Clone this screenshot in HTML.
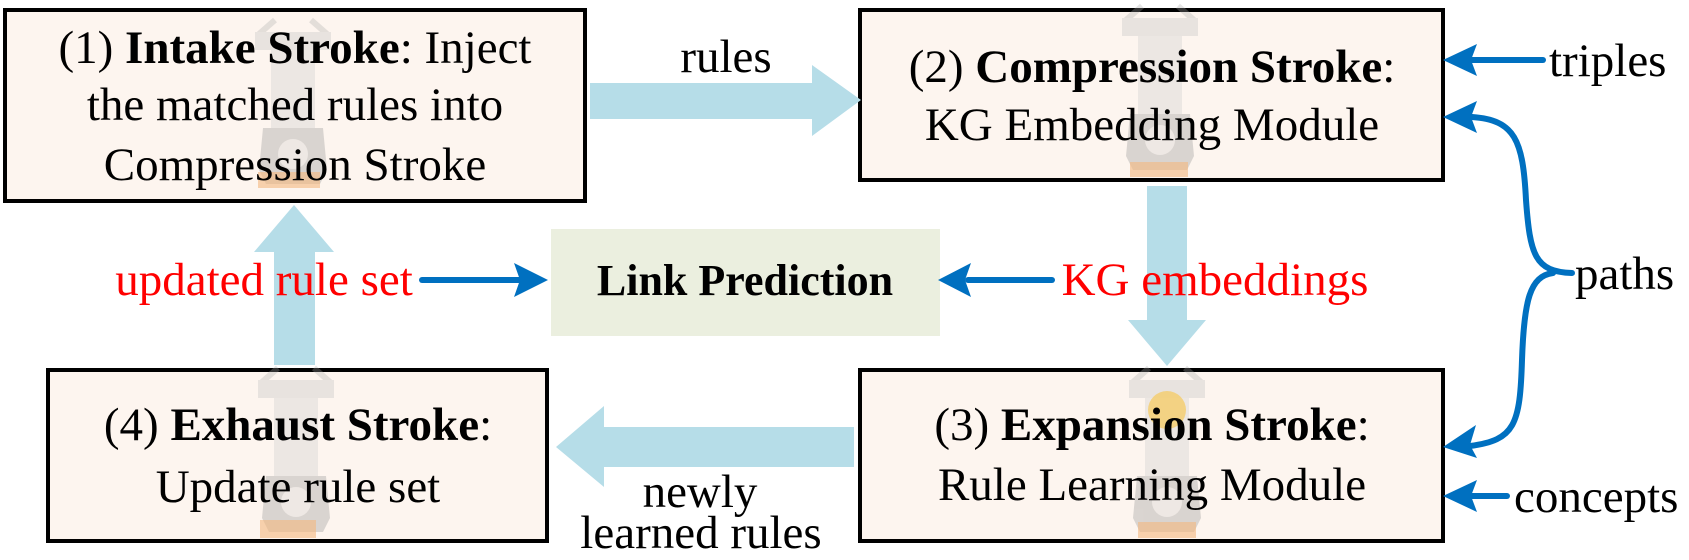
<!DOCTYPE html>
<html><head><meta charset="utf-8"><style>
html,body{margin:0;padding:0;background:#fff;}
svg text{font-family:"Liberation Serif",serif;}
</style></head><body>
<svg width="1689" height="555" viewBox="0 0 1689 555" xmlns="http://www.w3.org/2000/svg">
<defs>
<g id="eng" opacity="0.3">
  <path d="M-34,-58 L-18,-72 M34,-58 L18,-72" stroke="#aaa" stroke-width="6"/>
  <rect x="-38" y="-60" width="76" height="18" fill="#bbb"/>
  <rect x="-22" y="-42" width="44" height="78" fill="#c8c8c8"/>
  <path d="M-30,36 L30,36 L34,78 L27,92 L-27,92 L-34,78 Z" fill="#8a8a8a"/>
  <circle cx="0" cy="62" r="15" fill="#ccc"/>
</g>
</defs>
<rect x="5" y="10" width="580" height="191" fill="#fdf5ef" stroke="#000" stroke-width="4"/>
<rect x="860" y="10" width="583" height="170" fill="#fdf5ef" stroke="#000" stroke-width="4"/>
<rect x="860" y="370" width="583" height="171" fill="#fdf5ef" stroke="#000" stroke-width="4"/>
<rect x="48" y="370" width="499" height="171" fill="#fdf5ef" stroke="#000" stroke-width="4"/>
<use href="#eng" x="293" y="92"/><rect x="258" y="172" width="62" height="16" fill="#f3b77e" opacity="0.6"/>
<use href="#eng" x="1160" y="78"/><rect x="1130" y="162" width="58" height="15" fill="#f3b77e" opacity="0.6"/>
<use href="#eng" x="1167" y="440"/><circle cx="1167" cy="410" r="19" fill="#f7c95a" opacity="0.7"/><rect x="1138" y="522" width="58" height="16" fill="#f3b77e" opacity="0.6"/>
<use href="#eng" x="296" y="440"/><rect x="260" y="520" width="56" height="18" fill="#f3b77e" opacity="0.6"/>
<rect x="551" y="229" width="389" height="107" fill="#ebefdf"/>
<text x="745" y="295" font-size="44" font-weight="bold" text-anchor="middle">Link Prediction</text>
<polygon points="590,83 812,83 812,65 861,100 812,136 812,119 590,119" fill="#b6dde8"/>
<polygon points="274,365 274,252 254,252 294,205 334,252 315,252 315,365" fill="#b6dde8"/>
<polygon points="1147,186 1187,186 1187,320 1206,320 1167,366 1128,320 1147,320" fill="#b6dde8"/>
<polygon points="854,427 604,427 604,406 556,447 604,487 604,467 854,467" fill="#b6dde8"/>
<g stroke="#0070c0" stroke-width="6" fill="none" stroke-linecap="round">
  <line x1="422" y1="280" x2="520" y2="280"/>
  <line x1="1052" y1="280" x2="968" y2="280"/>
  <line x1="1543" y1="60" x2="1470" y2="60"/>
  <line x1="1507" y1="496" x2="1470" y2="496"/>
  <path d="M1472,117 C1515,120 1523,140 1526,200 C1530,255 1535,272 1572,273 M1553,273 C1530,276 1524,300 1522,360 C1520,425 1515,440 1470,446"/>
</g>
<g fill="#0070c0">
  <polygon points="548,280 514,263 520,280 514,297"/>
  <polygon points="938,280 971,263 965,280 971,297"/>
  <polygon points="1443,60 1477,44 1471,60 1477,76"/>
  <polygon points="1443,117 1477,101 1471,117 1477,133"/>
  <polygon points="1443,447 1476,425 1470,445 1477,458"/>
  <polygon points="1443,496 1477,480 1471,496 1477,512"/>
</g>
<g font-size="47" text-anchor="middle">
  <text x="295" y="63">(1) <tspan font-weight="bold">Intake Stroke</tspan>: Inject</text>
  <text x="295" y="120">the matched rules into</text>
  <text x="295" y="180">Compression Stroke</text>
  <text x="1152" y="82">(2) <tspan font-weight="bold">Compression Stroke</tspan>:</text>
  <text x="1152" y="140">KG Embedding Module</text>
  <text x="1152" y="440">(3) <tspan font-weight="bold">Expansion Stroke</tspan>:</text>
  <text x="1152" y="500">Rule Learning Module</text>
  <text x="298" y="440">(4) <tspan font-weight="bold">Exhaust Stroke</tspan>:</text>
  <text x="298" y="502">Update rule set</text>
  <text x="726" y="72">rules</text>
  <text x="700" y="507">newly</text>
  <text x="701" y="548">learned rules</text>
  <text x="264" y="295" fill="#ff0000">updated rule set</text>
  <text x="1215" y="295" fill="#ff0000">KG embeddings</text>
</g>
<g font-size="47">
  <text x="1549" y="76">triples</text>
  <text x="1575" y="289">paths</text>
  <text x="1514" y="512">concepts</text>
</g>
</svg>
</body></html>
